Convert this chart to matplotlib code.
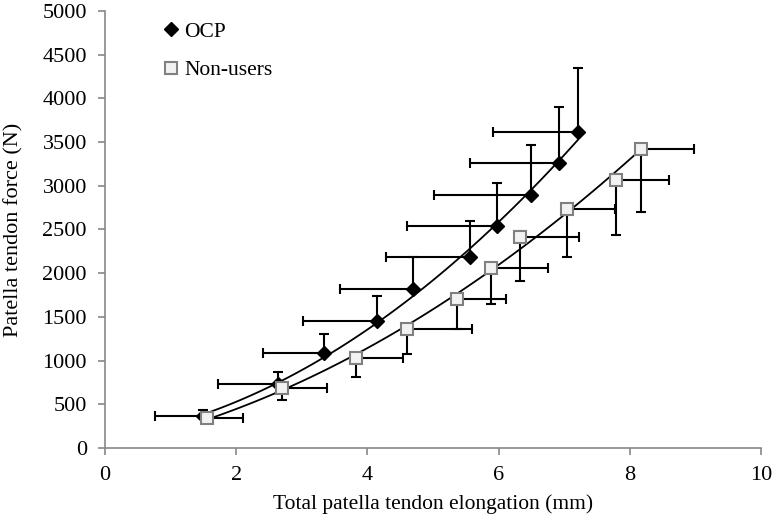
import matplotlib.pyplot as plt
import numpy as np

plt.rcParams['font.family'] = ['Liberation Serif', 'DejaVu Serif']

# OCP group
ocp_x = [1.50, 2.64, 3.34, 4.14, 4.70, 5.57, 5.97, 6.50, 6.92, 7.21]
ocp_y = [365, 730, 1085, 1450, 1815, 2190, 2535, 2900, 3265, 3620]
ocp_xerr = [0.74, 0.91, 0.93, 1.12, 1.11, 1.28, 1.36, 1.49, 1.36, 1.29]
ocp_yerr = [69, 138, 215, 285, 365, 410, 500, 570, 640, 730]

# Non-users
non_x = [1.56, 2.70, 3.82, 4.60, 5.37, 5.89, 6.32, 7.05, 7.79, 8.17]
non_y = [340, 685, 1027, 1358, 1700, 2055, 2410, 2740, 3070, 3425]
non_xerr = [0.55, 0.69, 0.73, 1.00, 0.74, 0.87, 0.90, 0.72, 0.81, 0.81]
non_yerr = [40, 137, 217, 285, 342, 411, 504, 550, 630, 720]

fig, ax = plt.subplots(figsize=(7.74, 5.17), dpi=100)
fig.subplots_adjust(left=0.1357, right=0.983, bottom=0.1335, top=0.9787)

# OCP: error bars go up and to the left
ax.errorbar(ocp_x, ocp_y, xerr=[ocp_xerr, [0] * len(ocp_x)],
            yerr=[[0] * len(ocp_y), ocp_yerr], fmt='none', ecolor='black',
            elinewidth=1.5, capsize=3.5, capthick=1.5, zorder=2)
# Non-users: error bars go down and to the right
ax.errorbar(non_x, non_y, xerr=[[0] * len(non_x), non_xerr],
            yerr=[non_yerr, [0] * len(non_y)], fmt='none', ecolor='black',
            elinewidth=1.5, capsize=3.5, capthick=1.5, zorder=2)

# 2nd order polynomial trendlines
for xs, ys in [(ocp_x, ocp_y), (non_x, non_y)]:
    c = np.polyfit(xs, ys, 2)
    xx = np.linspace(min(xs), max(xs), 100)
    ax.plot(xx, np.polyval(c, xx), color='black', lw=1.3, zorder=3)

ax.plot(ocp_x, ocp_y, 'D', color='black', markersize=7.5, label='OCP', zorder=4)
ax.plot(non_x, non_y, 's', markerfacecolor='#f2f2f2', markeredgecolor='#808080',
        markeredgewidth=1.5, markersize=9, label='Non-users', zorder=4)

ax.set_xlim(0, 10)
ax.set_ylim(0, 5000)
ax.set_xticks(range(0, 11, 2))
ax.set_yticks(range(0, 5001, 500))
for s in ['top', 'right']:
    ax.spines[s].set_visible(False)
for s in ['left', 'bottom']:
    ax.spines[s].set_color('#888888')
    ax.spines[s].set_linewidth(1.2)
ax.tick_params(colors='#888888', length=5, width=1.2, labelsize=16,
               labelcolor='black')
ax.tick_params(axis='x', pad=8)
ax.tick_params(axis='y', pad=8)
ax.set_xlabel('Total patella tendon elongation (mm)', fontsize=15.5, labelpad=7)
ax.set_ylabel('Patella tendon force (N)', fontsize=16, labelpad=14)

ax.legend(loc='upper left', bbox_to_anchor=(0.055, 1.02), frameon=False,
          fontsize=15.5, handletextpad=0.1, handlelength=1.0, labelspacing=0.85)

plt.savefig('out.png')
